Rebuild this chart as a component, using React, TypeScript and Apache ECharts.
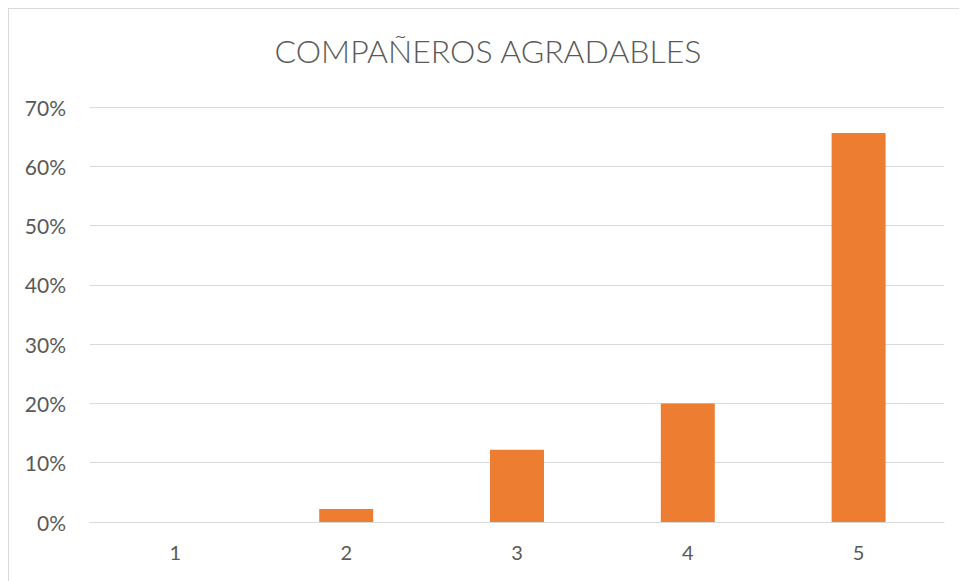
import React, { useEffect, useRef } from "react";
import * as echarts from "echarts";

// Rating scale (1 = lowest, 5 = highest)
const categories: string[] = ["1", "2", "3", "4", "5"];
// Share of answers per rating (fraction of total)
const shares: number[] = [0, 0.022, 0.122, 0.2, 0.656];
const chartTitle = "COMPAÑEROS AGRADABLES";

const FONT = "Lato, 'Open Sans', 'DejaVu Sans', sans-serif";
const TEXT = "#595959";
const GRID = "#d9d9d9";
const BAR = "#ED7D31";

export default function App() {
  const ref = useRef<HTMLDivElement | null>(null);

  useEffect(() => {
    if (!ref.current) return;
    const chart = echarts.init(ref.current, undefined, { renderer: "svg" });
    chart.setOption({
      animation: false,
      backgroundColor: "#ffffff",
      title: {
        text: chartTitle,
        left: "center",
        top: 20,
        textStyle: {
          fontFamily: FONT,
          fontWeight: 300,
          fontSize: 32,
          color: TEXT,
        },
      },
      grid: { left: 81, right: 23, top: 98, bottom: 59, containLabel: false },
      xAxis: {
        type: "category",
        data: categories,
        axisLine: { show: true, lineStyle: { color: GRID, width: 1 } },
        axisTick: { show: false },
        axisLabel: {
          color: TEXT,
          fontFamily: FONT,
          fontSize: 20,
          margin: 20,
        },
      },
      yAxis: {
        type: "value",
        min: 0,
        max: 0.7,
        interval: 0.1,
        axisLine: { show: false },
        axisTick: { show: false },
        splitLine: { lineStyle: { color: GRID, width: 1 } },
        axisLabel: {
          color: TEXT,
          fontFamily: FONT,
          fontSize: 21,
          margin: 24,
          formatter: (v: number) => `${Math.round(v * 100)}%`,
        },
      },
      series: [
        {
          type: "bar",
          data: shares,
          barWidth: "31.6%",
          itemStyle: { color: BAR },
        },
      ],
    });
    return () => chart.dispose();
  }, []);

  return (
    <div
      style={{
        borderTop: "1px solid #d9d9d9",
        borderLeft: "1px solid #d9d9d9",
        width: 958,
        height: 572,
        boxSizing: "content-box",
      }}
    >
      <div ref={ref} style={{ width: 958, height: 572 }} />
    </div>
  );
}
